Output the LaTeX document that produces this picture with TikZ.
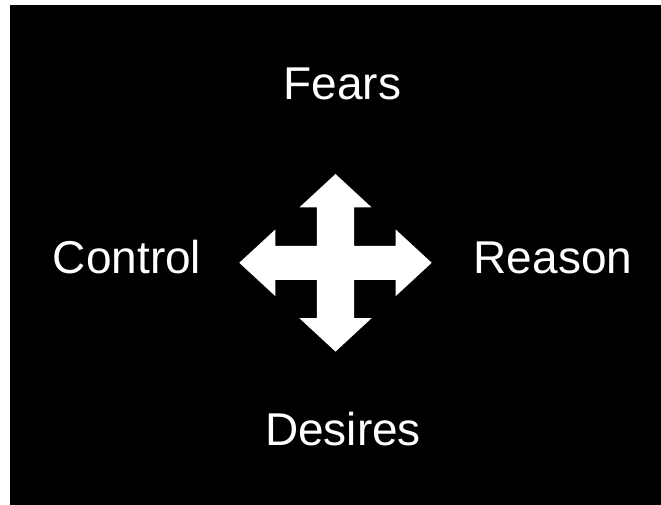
\documentclass[tikz,border=0pt]{standalone}
\usepackage{fontspec}
\setmainfont{Liberation Sans}
\usepackage{tikz}
\usetikzlibrary{positioning}
\tikzset{
  word/.style  = {text=white, anchor=base, inner sep=0pt,
                  font=\fontsize{46}{50}\selectfont},
  cross/.style = {fill=white, draw=none}
}

\begin{document}
\begin{tikzpicture}[x=1pt, y=1pt]
\useasboundingbox (0,0) rectangle (661,504);
\fill[black] (9.7,-5) rectangle (666,499);

\coordinate (mid) at (335.5,241.2);
\node[word] (fears)   at (342.5,404) {Fears};
\node[word] (control) at (127,231)   {Control};
\node[word] (reason)  at (553,231)   {Reason};
\node[word] (desires) at (343,59)    {Desires};

% four-way arrow
\begin{scope}[shift={(335.5,241.2)}]
\fill[cross] (0,88.8) -- (36.2,55.3) -- (18.7,55.3) -- (18.7,17)
  -- (60.2,17) -- (60.2,33.3) -- (96.2,0) -- (60.2,-33.3) -- (60.2,-17)
  -- (18.7,-17) -- (18.7,-55.3) -- (36.2,-55.3) -- (0,-88.8)
  -- (-36.2,-55.3) -- (-18.7,-55.3) -- (-18.7,-17) -- (-60.2,-17)
  -- (-60.2,-33.3) -- (-96.2,0) -- (-60.2,33.3) -- (-60.2,17)
  -- (-18.7,17) -- (-18.7,55.3) -- (-36.2,55.3) -- cycle;
\end{scope}
\end{tikzpicture}
\end{document}
